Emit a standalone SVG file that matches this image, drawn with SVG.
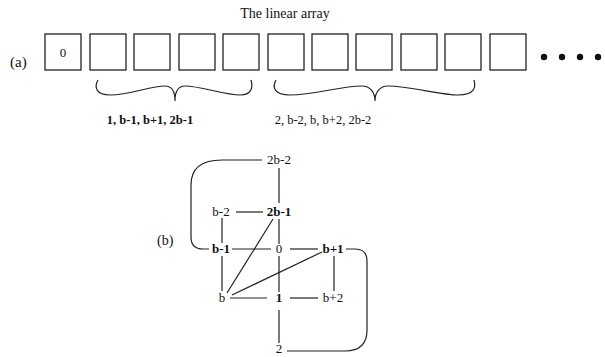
<svg xmlns="http://www.w3.org/2000/svg" width="605" height="357" viewBox="0 0 605 357">
<style>
text{font-family:"Liberation Serif","Times New Roman",serif;font-size:13px;fill:#111}
.b{font-weight:bold}
.box{fill:#fff;stroke:#222;stroke-width:1.3}
.ln{stroke:#222;stroke-width:1.2;fill:none}
</style>
<rect width="605" height="357" fill="#fff"/>
<text x="285" y="18" text-anchor="middle" style="font-size:14px">The linear array</text>
<text x="10" y="67" style="font-size:15px">(a)</text>
<g id="array">
<rect class="box" x="45" y="34" width="36" height="36"/>
<rect class="box" x="90" y="34" width="36" height="36"/>
<rect class="box" x="134" y="34" width="36" height="36"/>
<rect class="box" x="179" y="34" width="36" height="36"/>
<rect class="box" x="223" y="34" width="36" height="36"/>
<rect class="box" x="268" y="34" width="36" height="36"/>
<rect class="box" x="312" y="34" width="36" height="36"/>
<rect class="box" x="356" y="34" width="36" height="36"/>
<rect class="box" x="401" y="34" width="36" height="36"/>
<rect class="box" x="445" y="34" width="36" height="36"/>
<rect class="box" x="490" y="34" width="36" height="36"/>
<text x="63" y="57" text-anchor="middle">0</text>
<circle cx="544" cy="57" r="3.2" fill="#111"/>
<circle cx="562" cy="57" r="3.2" fill="#111"/>
<circle cx="580" cy="57" r="3.2" fill="#111"/>
<circle cx="598" cy="57" r="3.2" fill="#111"/>
</g>
<g id="braces">
<path class="ln" d="M98,80 C94,87 96,95 110,95 C130,95 150,86 165,86 C172,86 175,92 175,101 C175,92 178,86 185,86 C200,86 225,95 240,95 C252,95 253,87 251,80"/>
<path class="ln" d="M276,80 C272,87 274,95 290,95 C315,95 340,86 362,86 C370,86 375,92 375,101 C375,92 380,86 388,86 C410,86 440,95 458,95 C475,95 476,87 474,80"/>
<text class="b" x="150" y="124" text-anchor="middle" style="font-size:12.5px">1, b-1, b+1, 2b-1</text>
<text x="323" y="124" text-anchor="middle" style="font-size:12.5px">2, b-2, b, b+2, 2b-2</text>
</g>
<text x="157" y="245" style="font-size:14px">(b)</text>
<g id="connectors">
<path class="ln" d="M262,160 H222 Q191,160 191,185 V237 Q191,249 203,249 H209"/>
<line class="ln" x1="279" y1="168" x2="279" y2="203"/>
<line class="ln" x1="279" y1="219" x2="279" y2="244"/>
<line class="ln" x1="279" y1="256" x2="279" y2="292"/>
<line class="ln" x1="279" y1="310" x2="279" y2="343"/>
<line class="ln" x1="236" y1="212" x2="263" y2="212"/>
<line class="ln" x1="232" y1="249" x2="271" y2="249"/>
<line class="ln" x1="290" y1="249" x2="318" y2="249"/>
<path class="ln" d="M346,249 H355 Q367,249 367,261 V330 Q367,351 345,351 H287"/>
<line class="ln" x1="222" y1="218" x2="222" y2="243"/>
<line class="ln" x1="222" y1="256" x2="222" y2="291"/>
<line class="ln" x1="230" y1="298" x2="267" y2="298"/>
<line class="ln" x1="290" y1="298" x2="318" y2="298"/>
<line class="ln" x1="334" y1="256" x2="334" y2="291"/>
<line class="ln" x1="227" y1="293" x2="273" y2="219"/>
<line class="ln" x1="232" y1="295" x2="322" y2="252"/>
</g>
<g id="n-2b-2"><text x="279" y="164" text-anchor="middle">2b-2</text></g>
<g id="n-b-2"><text x="221" y="216" text-anchor="middle">b-2</text></g>
<g id="n-2b-1"><text class="b" x="279" y="216" text-anchor="middle">2b-1</text></g>
<g id="n-b-1"><text class="b" x="221" y="253" text-anchor="middle">b-1</text></g>
<g id="n-0"><text x="279" y="253" text-anchor="middle">0</text></g>
<g id="n-b+1"><text class="b" x="333" y="253" text-anchor="middle">b+1</text></g>
<g id="n-b"><text x="222" y="302" text-anchor="middle">b</text></g>
<g id="n-1"><text class="b" x="279" y="302" text-anchor="middle">1</text></g>
<g id="n-b+2"><text x="333" y="302" text-anchor="middle">b+2</text></g>
<g id="n-2"><text x="279" y="353" text-anchor="middle">2</text></g>
</svg>
